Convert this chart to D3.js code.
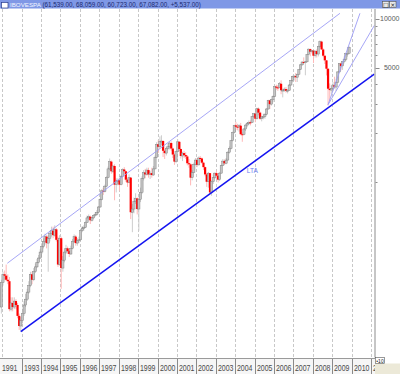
<!DOCTYPE html>
<html><head><meta charset="utf-8">
<script src="https://cdn.jsdelivr.net/npm/d3@7"></script>
<style>html,body{margin:0;padding:0;background:#fff;overflow:hidden}</style>
</head><body>
<svg id="c" width="400" height="374"></svg>
<script>
// ---------- DATA (monthly IBOVESPA candles, Dec 1991 .. Nov 2009) ----------
const startYear = 1991, startMonth = 11;   // first candle: Dec 1991
const firstOpen = 1700;
const closes = [
  2400,
  2700,2650,2500,2450,1650,1800,1700,1850,1750,1500,1300,1400,
  1550,1750,1900,2100,2300,2700,2500,2800,3000,3200,3400,3700,
  4000,4300,4600,4200,4500,4800,5000,4700,5100,4400,3100,4500,
  2950,3300,3700,3900,3750,3600,3900,4300,4600,4200,4350,4400,
  5000,5200,5250,5600,6000,6100,5800,6000,6200,6300,6500,7000,
  7800,8800,8700,9400,10600,12000,13300,11600,12500,9600,10000,10200,
  9600,10800,11900,11600,10300,9900,10600,6500,6800,7600,7900,6800,
  7800,8600,10500,11400,11100,11800,11100,11300,11000,12000,14100,17000,
  16400,17700,17800,15500,15000,16000,16400,17300,16000,14700,13300,15300,
  17600,15900,14400,15000,14600,14300,13000,12800,10600,11400,12800,13600,
  12700,14000,13900,13100,12300,11100,10000,11300,8600,10000,10600,11300,
  10900,10300,11300,12600,13400,13000,13600,15200,16000,17900,20000,22200,
  21800,21700,22100,19600,19500,21100,22300,22800,23200,23100,25100,26200,
  24400,28100,26600,24400,25000,25100,26000,28000,31600,30000,31900,33500,
  38400,38000,37900,40000,36500,36600,37100,36200,36400,39300,41900,44500,
  44600,43900,45800,48900,52300,54400,54200,54600,60500,65300,63000,63900,
  59500,63500,60900,67900,72600,65000,59500,55700,49500,37300,36600,37500,
  39300,38200,40900,47300,53200,51500,54800,56500,61500,61545,67082
];
const highs = [
  2500,
  2800,2850,3100,2700,2600,1950,1950,1950,1900,1800,1550,1480,
  1600,1850,2050,2200,2450,2800,2800,2950,3150,3350,3550,3850,
  4200,4500,4800,4700,4700,5000,5300,5300,5400,5200,4600,4700,
  4600,3500,3900,4100,4000,3850,4050,4450,4750,4700,4500,4600,
  5100,5350,5400,5700,6200,6300,6200,6100,6300,6500,6700,7100,
  7900,9000,9200,9600,10800,12400,13900,13500,12600,12800,10500,10500,
  10500,11000,12100,12300,11700,10500,11100,10700,7300,8000,8500,8000,
  8000,9200,10800,11800,12000,12200,12200,11700,12200,12500,14500,17500,
  18000,19000,19300,18000,15800,16500,17200,17600,17700,16200,14900,15500,
  18200,17800,16000,15300,15500,15200,14600,13800,13000,11800,13100,14000,
  14000,14300,14400,14100,13300,12400,11300,11500,11300,10200,11100,11400,
  11700,11000,11500,12700,13800,13700,14000,15400,16500,18000,20300,22400,
  23300,22700,22600,23000,20100,21400,22600,23300,23800,23800,25300,26300,
  26600,28500,28600,27000,25400,26200,26400,28400,31900,31900,32300,34000,
  38900,39500,39300,41000,42000,37300,38000,38200,37200,39800,42200,44800,
  45200,46600,46000,49000,52800,55100,58100,55200,60700,65900,65800,64200,
  64000,64000,65000,68400,73900,73500,66000,59500,56000,49800,40200,39000,
  41000,44200,42900,47800,53600,54000,55000,58900,62000,67300,68059
];
const lows = [
  1550,
  2300,2500,2450,2350,1600,1600,1600,1650,1650,1450,1230,1210,
  1350,1500,1700,1850,2050,2250,2350,2450,2750,2950,3150,3350,
  3600,3900,4100,3900,2800,4300,4600,4500,4600,4300,3000,3050,
  2200,2800,3200,3600,3600,3450,3550,3850,4200,4050,4050,4200,
  4400,4900,5000,5200,5600,5800,5500,5700,5900,6100,6200,6400,
  6900,7700,8300,8600,9300,10500,11800,11200,11300,7700,8600,9500,
  8800,9500,10700,11200,10000,9300,9800,5900,4900,6400,7300,6300,
  5000,7500,8400,10200,10500,10900,10600,10400,10600,10900,11900,14000,
  15000,16000,16800,14200,13800,14500,15600,15800,15500,14000,12700,13000,
  15200,15400,13900,13400,14000,13800,12600,12200,9500,10200,11300,12600,
  12300,12600,13400,12900,11800,10800,9300,9200,8400,8200,9700,10400,
  10400,9900,10100,11200,12500,12700,12800,13500,14900,15800,17700,19800,
  20800,20700,20300,19300,17600,19300,20500,21600,22300,22200,23000,24600,
  23200,24100,25600,24000,23500,24200,24400,25700,27700,28000,29400,30800,
  33500,36800,36200,37500,34500,33000,35700,35300,34900,36100,39000,40800,
  41900,41000,41000,45500,48600,51500,53300,45100,54000,60300,59000,61400,
  53700,58000,58000,58900,66500,64600,58200,52900,45000,29400,31200,34700,
  36300,37500,36100,40900,47000,48400,48700,53400,55000,58700,60723
];
const yearLabels = ["1991","1993","1994","1995","1996","1997","1998","1999","2000",
  "2001","2002","2003","2004","2005","2006","2007","2008","2009","2010","2011"];
const gridYears = [1992,1993,1994,1995,1996,1997,1998,1999,2000,2001,2002,2003,
  2004,2005,2006,2007,2008,2009,2010,2011];
const yTickValues = [100000,90000,80000,70000,60000,50000,40000,30000,20000,10000];
const yTickLabels = {100000:"10000", 50000:"5000"};
// trend lines: [fractional year, index value]
const trendLines = [
  {cls:"thick", from:[1992.95,1200],  to:[2011.17,45900]},
  {cls:"thin",  from:[1992.26,3157],  to:[2009.40,108400]},
  {cls:"thin",  from:[2008.79,29800], to:[2010.43,108400]},
  {cls:"thin",  from:[2008.79,29800], to:[2011.18,91500]}
];
const ltaLabel = {text:"LTA", at:[2004.6, 11300]};
const titleName = "IBOVESPA";
const titleValues = "(61,539.00, 68,059.00, 60,723.00, 67,082.00, +5,537.00)";

// ---------- DRAW ----------
const svg = d3.select("#c");
const W = 400, H = 374;
const plot = {left:0, right:374.5, top:9, bottom:357.5};
const fy = f => { const y = Math.floor(f); const s = new Date(y,0,1), e = new Date(y+1,0,1); return new Date(+s + (f-y)*(e-s)); };
const x = d3.scaleTime().domain([new Date(1993,0,1), new Date(2010,0,1)]).range([21.7, 351.6]);
const y = d3.scaleLog().domain([50000,100000]).range([68,19]);

svg.append("rect").attr("width",W).attr("height",H).attr("fill","#fff");
svg.append("defs").append("clipPath").attr("id","pc").append("rect")
  .attr("x",plot.left).attr("y",plot.top).attr("width",plot.right-plot.left).attr("height",plot.bottom-plot.top);

// grid
svg.append("g").selectAll("line").data(gridYears).join("line")
  .attr("x1",d=>Math.round(x(new Date(d,0,1)))+0.5).attr("x2",d=>Math.round(x(new Date(d,0,1)))+0.5)
  .attr("y1",plot.top).attr("y2",plot.bottom)
  .attr("stroke","#c8c8c8").attr("stroke-width",1).attr("stroke-dasharray","3,2");

const g = svg.append("g").attr("clip-path","url(#pc)");

// candles
const candles = closes.map((c,i)=>{
  const m = startMonth + i;
  return {date:new Date(startYear + Math.floor(m/12), m%12, 15),
          open: i===0 ? firstOpen : closes[i-1], close:c, high:highs[i], low:lows[i]};
});
const cg = g.append("g");
cg.selectAll("line").data(candles).join("line")
  .attr("x1",d=>x(d.date)).attr("x2",d=>x(d.date))
  .attr("y1",d=>y(d.high)).attr("y2",d=>y(d.low))
  .attr("stroke",d=>d.close>=d.open?"#cdcdcd":"#ffb8b8").attr("stroke-width",1);
cg.selectAll("rect").data(candles).join("rect")
  .attr("x",d=>x(d.date)-1.1).attr("width",2.2)
  .attr("y",d=>y(Math.max(d.open,d.close)))
  .attr("height",d=>Math.max(1,Math.abs(y(d.open)-y(d.close))))
  .attr("fill",d=>d.close>=d.open?"#c4c4c4":"#ff0000")
  .attr("stroke",d=>d.close>=d.open?"#7c7c7c":"none").attr("stroke-width",0.45);

// trend lines
g.append("g").selectAll("line").data(trendLines).join("line")
  .attr("x1",d=>x(fy(d.from[0]))).attr("y1",d=>y(d.from[1]))
  .attr("x2",d=>x(fy(d.to[0]))).attr("y2",d=>y(d.to[1]))
  .attr("stroke",d=>d.cls==="thick"?"#1414f0":"#9c9cf5")
  .attr("stroke-width",d=>d.cls==="thick"?1.5:0.9);
g.append("text").attr("x",x(fy(ltaLabel.at[0]))).attr("y",y(ltaLabel.at[1]))
  .attr("font-family","Liberation Sans, Arial, sans-serif").attr("font-size",6.5)
  .attr("fill","#6c7ef0").text(ltaLabel.text);

// y axis
svg.append("line").attr("x1",plot.right+0.5).attr("x2",plot.right+0.5)
  .attr("y1",plot.top).attr("y2",plot.bottom).attr("stroke","#8c8c8c");
const ya = svg.append("g");
ya.selectAll("line").data(yTickValues).join("line")
  .attr("x1",plot.right+1).attr("x2",d=>plot.right+(yTickLabels[d]?5:3))
  .attr("y1",d=>Math.round(y(d))+0.5).attr("y2",d=>Math.round(y(d))+0.5)
  .attr("stroke","#8c8c8c");
ya.selectAll("text").data(yTickValues.filter(d=>yTickLabels[d])).join("text")
  .attr("x",399.5).attr("y",d=>y(d)+2.4).attr("text-anchor","end")
  .attr("font-family","Liberation Sans, Arial, sans-serif").attr("font-size",7)
  .attr("fill","#5a5a5a").text(d=>yTickLabels[d]);

// title bar
svg.append("rect").attr("x",0).attr("y",0).attr("width",W).attr("height",8.5).attr("fill","#7f98e6");
svg.append("rect").attr("x",1.5).attr("y",2.5).attr("width",6.5).attr("height",5.5)
  .attr("fill","#fff").attr("stroke","#2a3c8c").attr("stroke-width",0.7);
svg.append("text").attr("x",10).attr("y",7.2)
  .attr("font-family","Liberation Sans, Arial, sans-serif").attr("font-size",6.2)
  .attr("fill","#f4f6ff").text(titleName);
svg.append("text").attr("x",42.5).attr("y",7.2)
  .attr("font-family","Liberation Sans, Arial, sans-serif").attr("font-size",6.3)
  .attr("fill","#1c2a70").text(titleValues);
[[382.5,"□"],[389.5,"×"]].forEach(([bx,s])=>{
  svg.append("rect").attr("x",bx).attr("y",1.5).attr("width",6.5).attr("height",6)
    .attr("fill","#e8e8e8").attr("stroke","#555").attr("stroke-width",0.6);
  svg.append("text").attr("x",bx+3.25).attr("y",6.8).attr("text-anchor","middle")
    .attr("font-family","DejaVu Sans, sans-serif").attr("font-size",6).attr("fill","#222").text(s);
});

// bottom strip with year labels
const strip = svg.append("g");
strip.append("rect").attr("x",0).attr("y",358).attr("width",375).attr("height",16).attr("fill","#f6f6f6");
strip.append("line").attr("x1",0).attr("x2",375).attr("y1",358.5).attr("y2",358.5).attr("stroke","#9a9a9a");
const labelX = (t,i)=> i===0 ? 0 : Math.round(x(new Date(+t,0,1)));
strip.append("defs").append("clipPath").attr("id","sc").append("rect").attr("x",0).attr("y",358).attr("width",375).attr("height",16);
const sl = strip.append("g").attr("clip-path","url(#sc)");
sl.selectAll("line").data(yearLabels.slice(1)).join("line")
  .attr("x1",(t,i)=>labelX(t,i+1)+0.5).attr("x2",(t,i)=>labelX(t,i+1)+0.5)
  .attr("y1",359).attr("y2",374).attr("stroke","#8a8a8a");
sl.selectAll("text").data(yearLabels).join("text")
  .attr("x",(t,i)=>labelX(t,i)+2).attr("y",370.5)
  .attr("font-family","Liberation Sans, Arial, sans-serif").attr("font-size",8.5)
  .attr("textLength",15.5).attr("lengthAdjust","spacingAndGlyphs")
  .attr("fill","#4a4a4a").text(t=>t);

// bottom-right corner
svg.append("rect").attr("x",375).attr("y",363.5).attr("width",25).attr("height",10.5).attr("fill","#ece9d8");
svg.append("rect").attr("x",375.5).attr("y",357.5).attr("width",9).attr("height",6)
  .attr("fill","#fff").attr("stroke","#555").attr("stroke-width",0.6);
svg.append("text").attr("x",380).attr("y",362.6).attr("text-anchor","middle")
  .attr("font-family","Liberation Sans, Arial, sans-serif").attr("font-size",5).attr("fill","#222").text("•10");
</script>
</body></html>
